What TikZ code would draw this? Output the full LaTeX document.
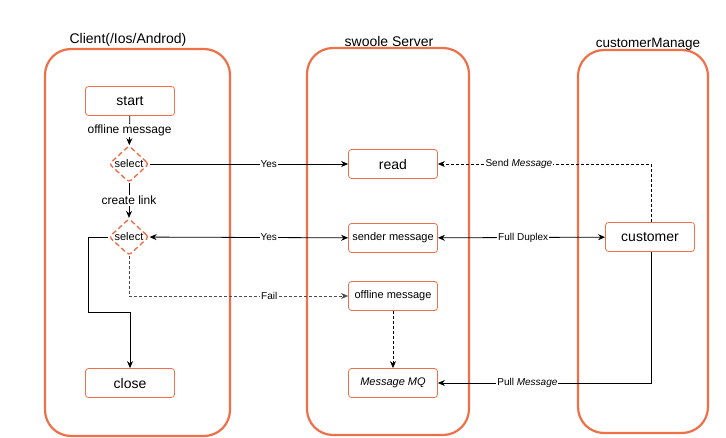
\documentclass[tikz,border=0pt]{standalone}
\usepackage{fontspec}
\setmainfont{Liberation Sans}
\usetikzlibrary{shapes.geometric,arrows.meta}
\definecolor{org}{RGB}{238,112,72}
\tikzset{
  lane/.style={draw=org,line width=2.2pt,rounded corners=26pt},
  box/.style={draw=org,line width=0.8pt,rounded corners=3pt,minimum width=89pt,minimum height=29pt,inner sep=0pt,font=\fontsize{11}{13}\selectfont},
  bigbox/.style={box,font=\fontsize{14}{16}\selectfont},
  dia/.style={draw=org,line width=1.4pt,dash pattern=on 5pt off 3pt,diamond,rounded corners=3pt,minimum width=40pt,minimum height=36pt,inner sep=0pt,font=\fontsize{11}{13}\selectfont},
  conn/.style={line width=0.8pt,-{Stealth[length=7pt,width=6pt]}},
  dconn/.style={conn,dash pattern=on 3pt off 2pt},
  lbl/.style={fill=white,inner sep=1pt,font=\fontsize{10}{12}\selectfont},
  vlbl/.style={lbl,font=\fontsize{12}{14}\selectfont},
  title/.style={font=\fontsize{14}{16}\selectfont}
}
\begin{document}
\begin{tikzpicture}[x=1pt,y=-1pt]
\useasboundingbox (0,0) rectangle (726,438);
% lanes
\draw[lane] (45,49) rectangle (230,436);
\draw[lane] (307,48) rectangle (469,435);
\draw[lane] (578,50) rectangle (708,433);
\node[title] (t1) at (128,40) {Client(/Ios/Androd)};
\node[title] (t2) at (389,41) {swoole Server};
\node[title,font=\fontsize{13.5}{16}\selectfont] (t3) at (648,44) {customerManage};
% nodes
\node[bigbox] (start) at (130,101) {start};
\node[dia] (s1) at (129,164) {select};
\node[dia] (s2) at (129,237) {select};
\node[bigbox] (close) at (130,383) {close};
\node[bigbox] (read) at (393,164) {read};
\node[box] (send) at (393,238) {sender message};
\node[box] (off) at (393,296) {offline message};
\node[box] (mq) at (393,383) {\itshape Message MQ};
\node[bigbox] (cust) at (650,237) {customer};
\coordinate (c1) at (129,296);
\coordinate (c2) at (88,237);
\coordinate (c3) at (88,312);
\coordinate (c4) at (130,312);
% connectors
\draw[conn] (start) -- node[vlbl]{offline message} (s1);
\draw[conn] (s1) -- node[vlbl]{create link} (s2);
\draw[conn] (s1) -- node[lbl,pos=0.6]{Yes} (read);
\draw[conn,{Stealth[length=7pt,width=6pt]}-{Stealth[length=7pt,width=6pt]}] (s2) -- node[lbl,pos=0.6]{Yes} (send);
\draw[dconn,draw=black!70] (s2.south) -- (c1) -- node[lbl,pos=0.64]{Fail} (off.west);
\draw[conn] (s2.west) -- (c2) -- (c3) -- (c4) -- (close.north);
\draw[dconn] (off) -- (mq);
\draw[dconn] (cust.north -| 651,0) |- node[lbl,pos=0.81]{Send \itshape Message} (read.east);
\draw[conn,{Stealth[length=7pt,width=6pt]}-{Stealth[length=7pt,width=6pt]}] (send) -- node[lbl,pos=0.51]{Full Duplex} (cust);
\draw[conn] (cust.south -| 651,0) |- node[lbl,pos=0.79]{Pull \itshape Message} (mq.east);
\end{tikzpicture}
\end{document}
